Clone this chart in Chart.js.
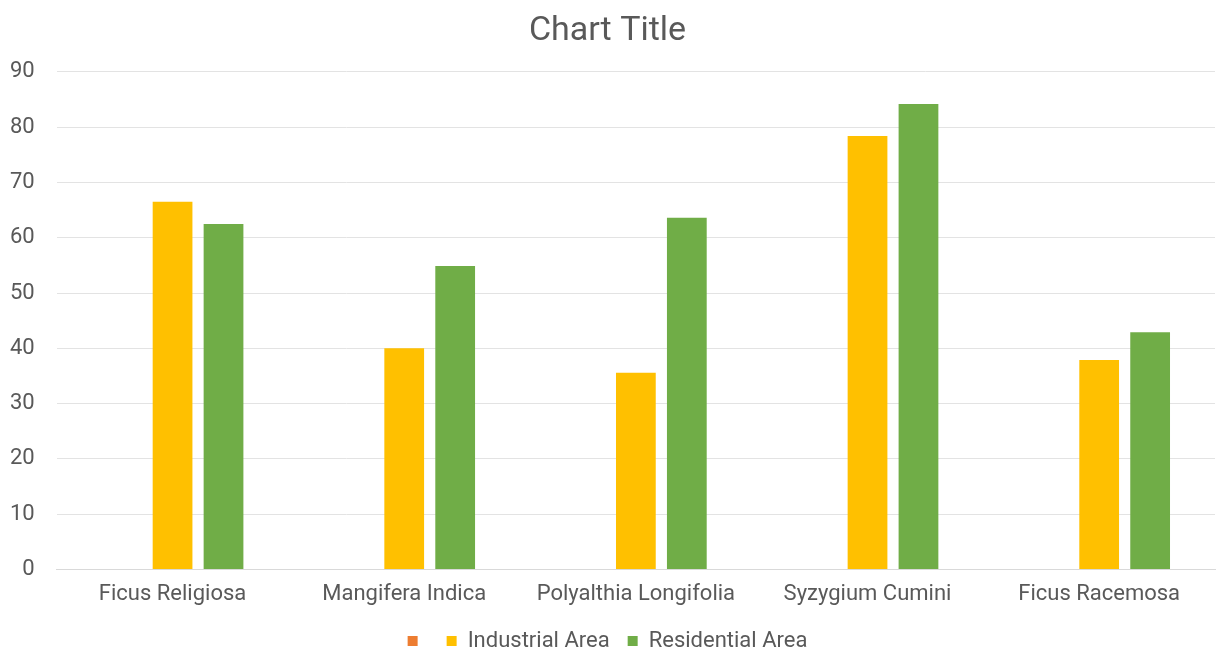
<!DOCTYPE html>
<html>
<head>
<meta charset="utf-8">
<script src="https://cdn.jsdelivr.net/npm/chart.js@4"></script>
<style>
  html, body { margin: 0; padding: 0; background: #fff; }
  #wrap { width: 1216px; height: 650px; }
</style>
</head>
<body>
<div id="wrap"><canvas id="treeChart"></canvas></div>
<script>
const species = ['Ficus Religiosa', 'Mangifera Indica', 'Polyalthia Longifolia', 'Syzygium Cumini', 'Ficus Racemosa'];
const blankSeries = [null, null, null, null, null];
const industrialArea = [66.5, 40, 35.6, 78.4, 37.9];
const residentialArea = [62.5, 54.9, 63.6, 84.2, 42.9];
const yTicks = [0, 10, 20, 30, 40, 50, 60, 70, 80, 90];

const ctx = document.getElementById('treeChart').getContext('2d');

new Chart(ctx, {
    type: 'bar',
    data: {
        labels: species,
        datasets: [
            { label: '', data: blankSeries, backgroundColor: '#ED7D31' },
            { label: 'Industrial Area', data: industrialArea, backgroundColor: '#FFC000' },
            { label: 'Residential Area', data: residentialArea, backgroundColor: '#70AD47' }
        ]
    },
    options: {
        responsive: true,
        maintainAspectRatio: false,
        animation: false,
        datasets: {
            bar: { categoryPercentage: 0.66, barPercentage: 0.78 }
        },
        layout: { padding: { left: 0, right: 1, top: 6, bottom: -12 } },
        plugins: {
            title: {
                display: true,
                text: 'Chart Title',
                color: '#595959',
                font: { family: 'Roboto', size: 34, weight: 'normal' },
                padding: { top: 5, bottom: 20 }
            },
            legend: {
                position: 'bottom',
                labels: {
                    color: '#595959',
                    font: { family: 'Roboto', size: 22 },
                    boxWidth: 10,
                    boxHeight: 10,
                    padding: 18
                }
            },
            tooltip: { enabled: false }
        },
        scales: {
            x: {
                grid: { display: false },
                border: { color: '#d9d9d9' },
                ticks: {
                    color: '#595959',
                    font: { family: 'Roboto', size: 22 },
                    padding: 4,
                    maxRotation: 0
                }
            },
            y: {
                min: 0,
                max: 90,
                afterBuildTicks: axis => { axis.ticks = yTicks.map(v => ({ value: v })); },
                // pull the plot area a little closer to the tick labels
                afterFit: axis => { axis.width -= 12; },
                grid: { color: '#e3e3e3', drawTicks: false },
                border: { display: false },
                ticks: {
                    color: '#595959',
                    font: { family: 'Roboto', size: 22 },
                    padding: 22
                }
            }
        }
    }
});
</script>
</body>
</html>
